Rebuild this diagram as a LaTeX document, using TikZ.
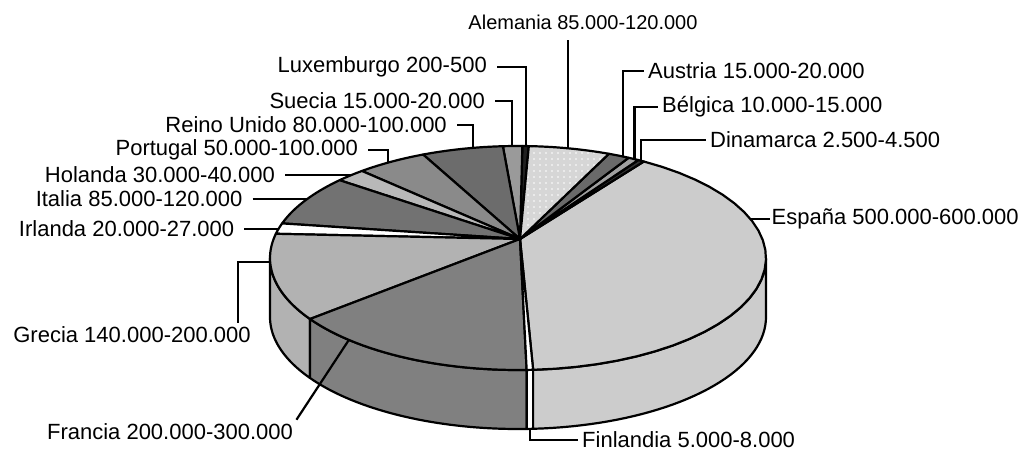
\documentclass[tikz,border=0pt]{standalone}
\usepackage{fontspec}
\setmainfont{Liberation Sans}
\usepackage{tikz}
\usetikzlibrary{positioning,patterns.meta}
\definecolor{espana}{HTML}{CCCCCC}
\definecolor{dinamarca}{HTML}{303030}
\definecolor{belgica}{HTML}{A0A0A0}
\definecolor{austria}{HTML}{6A6A6A}
\definecolor{alemania}{HTML}{D6D6D6}
\definecolor{luxemburgo}{HTML}{202020}
\definecolor{suecia}{HTML}{9A9A9A}
\definecolor{reino}{HTML}{6C6C6C}
\definecolor{portugal}{HTML}{8A8A8A}
\definecolor{holanda}{HTML}{B8B8B8}
\definecolor{italia}{HTML}{727272}
\definecolor{irlanda}{HTML}{FFFFFF}
\definecolor{grecia}{HTML}{B2B2B2}
\definecolor{francia}{HTML}{808080}
\definecolor{finlandia}{HTML}{FFFFFF}

\begin{document}
\begin{tikzpicture}[
    x=1pt,y=-1pt,
    edge/.style={draw=black, line width=2.2pt, line join=round},
    leader/.style={line width=2.2pt},
    lbl/.style={font=\fontsize{22pt}{26pt}\selectfont, inner ysep=4pt},
    lbll/.style={lbl, anchor=east, inner xsep=10pt},
    lblr/.style={lbl, anchor=west, inner xsep=4pt},
    declare function={ex(\u)=518+248*cos(\u); ey(\u)=258-112*sin(\u);}
    ]
    \useasboundingbox (0,0) rectangle (1027,453);
    \foreach \a/\b/\col in {180/213/grecia, 213/272/francia, 272/273.5/finlandia, 273.5/360/espana}
      \filldraw[edge, fill=\col] plot[domain=\a:\b, samples=40, variable=\t] ({ex(\t)},{ey(\t)})
        -- plot[domain=\b:\a, samples=40, variable=\t] ({ex(\t)},{ey(\t)+59}) -- cycle;
    \coordinate (apex) at (520,239);
    \foreach \a/\b/\col in {-86.5/59.5/espana, 59.5/61/dinamarca, 61/63.5/belgica, 63.5/68.5/austria,
        87.5/89/luxemburgo, 89/93.5/suecia, 93.5/112.5/reino, 112.5/129/portugal, 129/136/holanda,
        136/162/italia, 162/167.5/irlanda, 167.5/213/grecia, 213/272/francia, 272/273.5/finlandia}
      \filldraw[edge, fill=\col] (apex) -- plot[domain=\a:\b, samples=30, variable=\t] ({ex(\t)},{ey(\t)}) -- cycle;
    \filldraw[edge, preaction={fill=alemania}, pattern={Dots[radius=0.9pt, distance=6pt]}, pattern color=white]
      (apex) -- plot[domain=68.5:87.5, samples=30, variable=\t] ({ex(\t)},{ey(\t)}) -- cycle;

    \coordinate (alempt) at ({ex(78.4)},{ey(78.4)});
    \coordinate (luxpt) at ({ex(88.2)},{ey(88.2)});
    \coordinate (suecpt) at ({ex(91.4)},{ey(91.4)});
    \coordinate (reinopt) at ({ex(100.5)},{ey(100.5)});
    \coordinate (portpt) at ({ex(121.6)},{ey(121.6)});
    \coordinate (holpt) at ({ex(132)},{ey(132)});
    \coordinate (italpt) at ({ex(148)},{ey(148)});
    \coordinate (irlpt) at ({ex(165)},{ey(165)});
    \coordinate (grecpt) at ({ex(182)},{ey(182)});
    \coordinate (franpt) at ({ex(227)},{ey(227)});
    \coordinate (finpt) at ({ex(272.8)},{ey(272.8)+59});
    \coordinate (esppt) at ({ex(20.4)},{ey(20.4)});
    \coordinate (dinapt) at ({ex(60.3)},{ey(60.3)});
    \coordinate (belgpt) at ({ex(62)},{ey(62)});
    \coordinate (austpt) at ({ex(65)},{ey(65)});

    \node[lbl, font=\fontsize{20pt}{24pt}\selectfont] (alem) at (583,22) {Alemania 85.000-120.000};
    \node[lbll] (lux) at (497,67) {Luxemburgo 200-500};
    \node[lbll] (suec) at (495,101) {Suecia 15.000-20.000};
    \node[lbll] (reino) at (457,125) {Reino Unido 80.000-100.000};
    \node[lbll] (port) at (368,150) {Portugal 50.000-100.000};
    \node[lbll, left=67pt of holpt] (hol) {Holanda 30.000-40.000};
    \node[lbll, left=55pt of italpt] (ital) {Italia 85.000-120.000};
    \node[lbll, left=34pt of irlpt] (irl) {Irlanda 20.000-27.000};
    \node[lbl] (grec) at (132,335) {Grecia 140.000-200.000};
    \node[lbl] (fran) at (170,432) {Francia 200.000-300.000};
    \node[lblr] (fin) at (578,440) {Finlandia 5.000-8.000};
    \node[lblr, right=20pt of esppt, inner xsep=1pt] (esp) {España 500.000-600.000};
    \node[lblr] (dina) at (706,140) {Dinamarca 2.500-4.500};
    \node[lblr] (belg) at (658,107) {Bélgica 10.000-15.000};
    \node[lblr] (aust) at (644,71) {Austria 15.000-20.000};

    \draw[leader, shorten >=6pt] (alempt) -- (alempt |- alem.south);
    \draw[leader] (lux.east) -| (luxpt);
    \draw[leader] (suec.east) -| (suecpt);
    \draw[leader] (reino.east) -| (reinopt);
    \draw[leader] (port.east) -| (portpt);
    \draw[leader] (hol.east) -- (holpt);
    \draw[leader] (ital.east) -- (italpt);
    \draw[leader] (irl.east) -- (irlpt);
    \draw[leader] (grecpt) -| ([xshift=106pt]grec.north);
    \draw[leader] (franpt) -- (fran.north east);
    \draw[leader] (finpt) |- (fin.west);
    \draw[leader] (esppt) -- (esp.west);
    \draw[leader] (dinapt) |- (dina.west);
    \draw[leader] (belgpt) |- (belg.west);
    \draw[leader] (austpt) |- (aust.west);
  \end{tikzpicture}
\end{document}
